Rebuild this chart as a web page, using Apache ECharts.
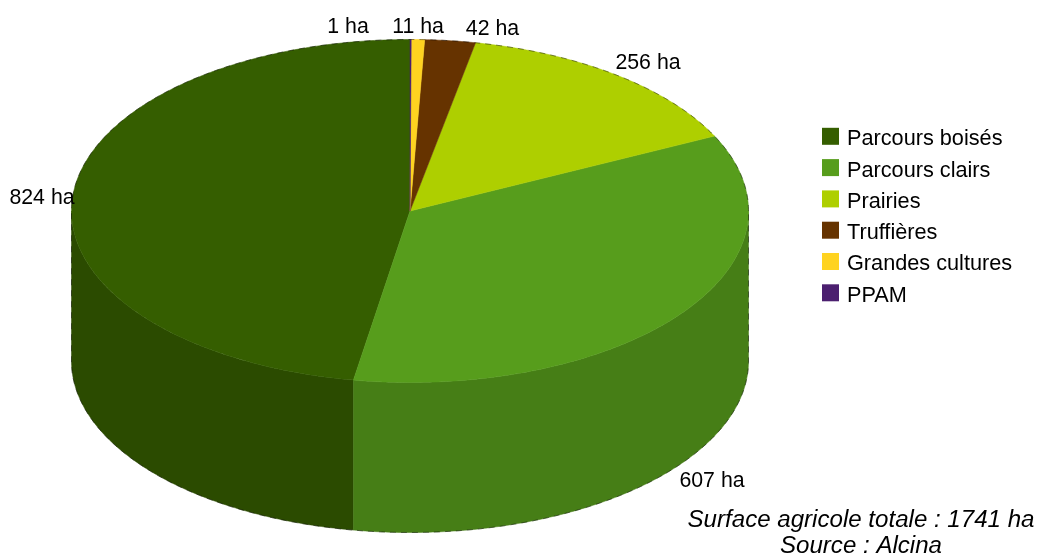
<!DOCTYPE html>
<html>
<head>
<meta charset="utf-8">
<style>html,body{margin:0;padding:0;background:#fff}#chart{width:1038px;height:555px}</style>
<script src="https://cdn.jsdelivr.net/npm/echarts@6/dist/echarts.min.js"></script>
</head>
<body>
<div id="chart"></div>
<script>
// Land use of the farm area, in hectares
const categories = ['Parcours boisés', 'Parcours clairs', 'Prairies', 'Truffières', 'Grandes cultures', 'PPAM'];
const hectares = [824, 607, 256, 42, 11, 1];
const topColors = ['#355e00', '#579d1c', '#aecf00', '#663300', '#ffd320', '#4b1f6f'];
const wallColors = ['#2b4b00', '#467e16', '#8ca600', '#522900', '#cca91a', '#3c1959'];
const footerLines = ['Surface agricole totale : 1741 ha', 'Source : Alcina'];

// Disc geometry: ellipse of the top face and thickness of the side wall
const disc = { cx: 410, cy: 211, rx: 338.5, ry: 171.5, depth: 150 };
// Label centres, one per category
const labelCentres = [[42, 198], [712, 481], [648, 63], [492.5, 29], [418, 27], [348, 27]];

const total = hectares.reduce((a, b) => a + b, 0);
const rad = Math.PI / 180;

// Point on the rim; angles run anticlockwise from the top of the disc
function rim(deg, drop) {
  return [
    disc.cx - disc.rx * Math.sin(deg * rad),
    disc.cy - disc.ry * Math.cos(deg * rad) + (drop || 0)
  ];
}

function arcPoints(from, to, drop) {
  const steps = Math.max(2, Math.ceil((to - from) * 2));
  const pts = [];
  for (let i = 0; i <= steps; i++) pts.push(rim(from + (to - from) * i / steps, drop));
  return pts;
}

function sliceRange(index) {
  let before = 0;
  for (let i = 0; i < index; i++) before += hectares[i];
  return [before / total * 360, (before + hectares[index]) / total * 360];
}

function renderSlice(index) {
  return function (params, api) {
    const [from, to] = sliceRange(index);
    const children = [];
    // The side wall only shows on the front half of the disc
    const wallFrom = Math.max(from, 90);
    const wallTo = Math.min(to, 270);
    if (wallTo > wallFrom) {
      const upper = arcPoints(wallFrom, wallTo, 0);
      const lower = arcPoints(wallFrom, wallTo, disc.depth).reverse();
      children.push({
        type: 'polygon',
        shape: { points: upper.concat(lower) },
        style: { fill: wallColors[index], stroke: wallColors[index], lineWidth: 0.5 }
      });
    }
    children.push({
      type: 'polygon',
      shape: { points: [[disc.cx, disc.cy]].concat(arcPoints(from, to, 0)) },
      style: { fill: topColors[index], stroke: topColors[index], lineWidth: 0.5 }
    });
    return { type: 'group', children: children };
  };
}

const series = categories.map((name, i) => ({
  type: 'custom',
  name: name,
  coordinateSystem: 'none',
  silent: true,
  animation: false,
  itemStyle: { color: topColors[i] },
  data: [hectares[i]],
  z: 2,
  renderItem: renderSlice(i)
}));

// Broken dark outline around the whole disc
series.push({
  type: 'custom',
  name: 'outline',
  coordinateSystem: 'none',
  silent: true,
  animation: false,
  z: 3,
  data: [total],
  renderItem: function () {
    const back = arcPoints(-90, 90, 0);
    const front = arcPoints(90, 270, disc.depth);
    return {
      type: 'polyline',
      shape: { points: back.concat(front, [back[0]]) },
      style: { fill: 'none', stroke: 'rgba(0,0,0,0.45)', lineWidth: 1, lineDash: [6, 5] }
    };
  }
});

// Value labels sit in their own series, above every slice
series.push({
  type: 'custom',
  name: 'labels',
  coordinateSystem: 'none',
  silent: true,
  animation: false,
  z: 5,
  data: hectares,
  renderItem: function (params, api) {
    const c = labelCentres[params.dataIndex];
    return {
      type: 'text',
      x: c[0], y: c[1],
      style: {
        text: api.value(0) + ' ha',
        fill: '#000',
        font: '21.3px "Liberation Sans", Arial, sans-serif',
        align: 'center',
        verticalAlign: 'middle'
      }
    };
  }
});

const chart = echarts.init(document.getElementById('chart'), null, { renderer: 'canvas' });
chart.setOption({
  backgroundColor: '#fff',
  animation: false,
  legend: {
    data: categories,
    orient: 'vertical',
    left: 822,
    top: 127.8,
    padding: 0,
    itemWidth: 17,
    itemHeight: 17,
    itemGap: 8.8,
    icon: 'rect',
    selectedMode: false,
    formatter: '{t|{name}}',
    textStyle: {
      color: '#000',
      fontFamily: '"Liberation Sans", Arial, sans-serif',
      fontSize: 21.7,
      rich: {
        t: {
          color: '#000',
          fontFamily: '"Liberation Sans", Arial, sans-serif',
          fontSize: 21.7,
          padding: [6, 0, 0, 3]
        }
      }
    }
  },
  graphic: footerLines.map((line, i) => ({
    type: 'text',
    x: 861,
    y: 520 + i * 26,
    z: 6,
    silent: true,
    style: {
      text: line,
      fill: '#000',
      font: 'italic 24.1px "Liberation Sans", Arial, sans-serif',
      align: 'center',
      verticalAlign: 'middle'
    }
  })),
  series: series
});
</script>
</body>
</html>
